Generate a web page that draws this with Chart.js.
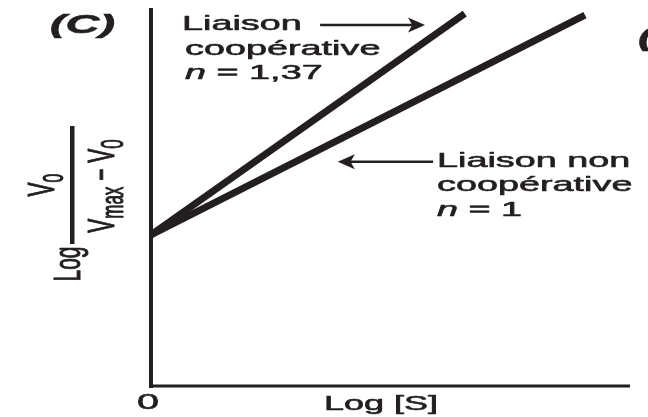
<!DOCTYPE html>
<html>
<head>
<meta charset="utf-8">
<script src="https://cdn.jsdelivr.net/npm/chart.js@4/dist/chart.umd.min.js"></script>
<style>
  html, body { margin: 0; padding: 0; background: #ffffff; }
  canvas { display: block; }
</style>
</head>
<body>
<canvas id="hill" width="648" height="417"></canvas>
<script>
// Hill plot: log(V0 / (Vmax - V0)) versus log [S]
const cooperativeX = [0, 6.55];
const cooperativeY = [4.0, 9.85];
const nonCooperativeX = [0, 9.06];
const nonCooperativeY = [4.0, 9.81];

const xTickLabels = ['0'];
const xTitle = 'Log [S]';
const panelLabels = ['(C)', '(D)'];
const cooperativeLines = ['Liaison', 'coopérative', 'n', ' = 1,37'];
const nonCooperativeLines = ['Liaison non', 'coopérative', 'n', ' = 1'];

// arrow tail/tip in data units (x0, x1, y)
const cooperativeArrow = [3.53, 5.72, 9.55];
const nonCooperativeArrow = [5.89, 3.90, 5.93];

const INK = '#231f20';
const SX = 1.8;           // horizontal stretch of the lettering
const WEIGHT = 0.6;       // extra stroke to thicken the lettering
const FACE = '"Liberation Sans", Arial, Helvetica, sans-serif';

function toPoints(xs, ys) { return xs.map((x, i) => ({ x: x, y: ys[i] })); }

function paint(ctx, text, x, y) {
  ctx.fillText(text, x, y);
  ctx.strokeText(text, x, y);
}

function textRun(ctx, parts, x, y, align) {
  let total = 0;
  parts.forEach(p => { ctx.font = p.font; total += ctx.measureText(p.text).width; });
  let start = align === 'center' ? x - total * SX / 2 : x;
  ctx.save();
  ctx.translate(start, y);
  ctx.scale(SX, 1);
  ctx.lineWidth = WEIGHT;
  ctx.strokeStyle = INK;
  ctx.lineJoin = 'round';
  let cx = 0;
  parts.forEach(p => {
    ctx.font = p.font;
    paint(ctx, p.text, cx, p.dy || 0);
    cx += ctx.measureText(p.text).width;
  });
  ctx.restore();
}

function rotatedRun(ctx, parts, baseX, centerY) {
  let total = 0;
  parts.forEach(p => { ctx.font = p.font; total += ctx.measureText(p.text).width; });
  ctx.save();
  ctx.translate(baseX, centerY);
  ctx.rotate(-Math.PI / 2);
  ctx.scale(1, SX);
  ctx.lineWidth = WEIGHT;
  ctx.strokeStyle = INK;
  ctx.lineJoin = 'round';
  let cx = -total / 2;
  parts.forEach(p => {
    ctx.font = p.font;
    paint(ctx, p.text, cx, p.dy || 0);
    cx += ctx.measureText(p.text).width;
  });
  ctx.restore();
}

function arrow(ctx, x0, x1, y) {
  const dir = Math.sign(x1 - x0);
  const headLen = 17, half = 7.5;
  ctx.save();
  ctx.strokeStyle = INK;
  ctx.fillStyle = INK;
  ctx.lineWidth = 2.5;
  ctx.beginPath();
  ctx.moveTo(x0, y);
  ctx.lineTo(x1 - dir * headLen * 0.6, y);
  ctx.stroke();
  ctx.beginPath();
  ctx.moveTo(x1, y);
  ctx.lineTo(x1 - dir * headLen, y - half);
  ctx.lineTo(x1 - dir * headLen * 0.75, y);
  ctx.lineTo(x1 - dir * headLen, y + half);
  ctx.closePath();
  ctx.fill();
  ctx.restore();
}

const decorations = {
  id: 'decorations',
  beforeDatasetsDraw(chart) {
    const ctx = chart.ctx;
    const xs = chart.scales.x, ys = chart.scales.y;
    const ox = xs.getPixelForValue(0);
    const oy = ys.getPixelForValue(0);
    ctx.save();
    ctx.fillStyle = INK;
    // vertical axis
    ctx.fillRect(ox - 2, chart.chartArea.top, 4, oy - chart.chartArea.top + 2);
    // horizontal axis
    ctx.fillRect(ox - 2, oy - 1.5, xs.getPixelForValue(10) - ox + 2, 3);
    ctx.restore();
  },
  afterDatasetsDraw(chart) {
    const ctx = chart.ctx;
    const xs = chart.scales.x, ys = chart.scales.y;
    const reg = '21px ' + FACE;
    const ital = 'italic 21px ' + FACE;
    const panel = 'italic bold 26px ' + FACE;
    ctx.save();
    ctx.fillStyle = INK;
    ctx.textBaseline = 'alphabetic';
    ctx.textAlign = 'left';

    // panel letters
    textRun(ctx, [{ text: panelLabels[0], font: panel }], 50, 33);
    textRun(ctx, [{ text: panelLabels[1], font: panel }], 638, 46);

    // cooperative annotation
    textRun(ctx, [{ text: cooperativeLines[0], font: reg }], 182, 30);
    textRun(ctx, [{ text: cooperativeLines[1], font: reg }], 185, 55);
    textRun(ctx, [{ text: cooperativeLines[2], font: ital }, { text: cooperativeLines[3], font: reg }], 185, 79);

    // non-cooperative annotation
    textRun(ctx, [{ text: nonCooperativeLines[0], font: reg }], 437, 167);
    textRun(ctx, [{ text: nonCooperativeLines[1], font: reg }], 437, 191);
    textRun(ctx, [{ text: nonCooperativeLines[2], font: ital }, { text: nonCooperativeLines[3], font: reg }], 437, 216);

    // arrows
    arrow(ctx, xs.getPixelForValue(cooperativeArrow[0]), xs.getPixelForValue(cooperativeArrow[1]), ys.getPixelForValue(cooperativeArrow[2]));
    arrow(ctx, xs.getPixelForValue(nonCooperativeArrow[0]), xs.getPixelForValue(nonCooperativeArrow[1]), ys.getPixelForValue(nonCooperativeArrow[2]));

    // origin tick label and x title
    textRun(ctx, [{ text: xTickLabels[0], font: '22px ' + FACE }], xs.getPixelForValue(0) - 3, 409, 'center');
    textRun(ctx, [{ text: xTitle, font: '20px ' + FACE }], 381, 410, 'center');

    // y title: Log [V0 / (Vmax − V0)]
    rotatedRun(ctx, [{ text: 'Log', font: reg }], 80, 264);
    rotatedRun(ctx, [{ text: 'V', font: reg }, { text: '0', font: '16px ' + FACE, dy: 5 }], 54, 185);
    rotatedRun(ctx, [
      { text: 'V', font: reg },
      { text: 'max', font: '17px ' + FACE, dy: 5 },
      { text: ' \u2212 ', font: reg },
      { text: 'V', font: reg },
      { text: '0', font: '17px ' + FACE, dy: 5 }
    ], 114, 186);
    ctx.fillRect(70, 126, 4.5, 118);
    ctx.restore();
  }
};

new Chart(document.getElementById('hill'), {
  type: 'scatter',
  data: {
    datasets: [
      {
        label: 'Liaison coopérative',
        data: toPoints(cooperativeX, cooperativeY),
        showLine: true,
        borderColor: INK,
        borderWidth: 7,
        borderCapStyle: 'butt',
        pointRadius: 0,
        clip: false
      },
      {
        label: 'Liaison non coopérative',
        data: toPoints(nonCooperativeX, nonCooperativeY),
        showLine: true,
        borderColor: INK,
        borderWidth: 7,
        borderCapStyle: 'butt',
        pointRadius: 0,
        clip: false
      }
    ]
  },
  options: {
    responsive: false,
    animation: false,
    devicePixelRatio: 1,
    layout: { padding: { left: 151, right: 18, top: 8, bottom: 31 } },
    plugins: { legend: { display: false }, tooltip: { enabled: false } },
    scales: {
      x: { type: 'linear', min: 0, max: 10, display: false },
      y: { type: 'linear', min: 0, max: 10, display: false }
    }
  },
  plugins: [decorations]
});
</script>
</body>
</html>
